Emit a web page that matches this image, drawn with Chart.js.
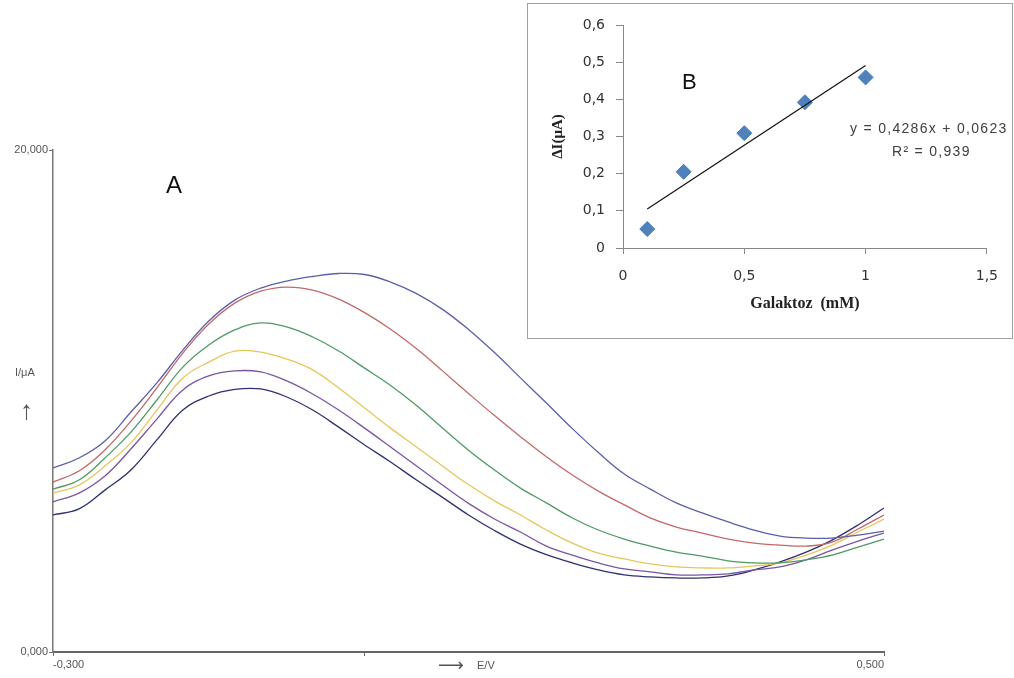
<!DOCTYPE html>
<html>
<head>
<meta charset="utf-8">
<script src="https://cdn.jsdelivr.net/npm/chart.js@4.4.1/dist/chart.umd.min.js"></script>
<style>
  html, body { margin: 0; padding: 0; background: #fff; }
  body { width: 1014px; height: 678px; position: relative; overflow: hidden; font-family: 'Liberation Sans', Arial, sans-serif; }
  #main { position: absolute; left: 0; top: 0; }
  #inset { position: absolute; left: 527px; top: 3px; width: 484px; height: 334px; border: 1px solid #a0a0a0; background: #fff; }
  #inset canvas { display: block; }
  .lbl { position: absolute; white-space: nowrap; }
</style>
</head>
<body>
<canvas id="main" width="1014" height="678"></canvas>
<div id="inset"><canvas id="insetChart" width="484" height="334"></canvas></div>

<div class="lbl" style="left:166px;top:173px;font-size:24px;line-height:24px;color:#111;">A</div>
<div class="lbl" style="left:15px;top:367px;font-size:11px;line-height:11px;color:#555;">I/μA</div>
<div class="lbl" style="left:20px;top:397px;font-size:26px;line-height:26px;color:#555;">↑</div>
<div class="lbl" style="left:438px;top:656px;font-size:18px;line-height:18px;color:#555;font-family:'DejaVu Sans',sans-serif;">⟶</div>
<div class="lbl" style="left:477px;top:660px;font-size:11px;line-height:11px;color:#555;">E/V</div>

<div class="lbl" style="left:682px;top:71px;font-size:22px;line-height:22px;color:#111;">B</div>
<div class="lbl" style="left:850px;top:121px;font-size:14px;line-height:14px;letter-spacing:1.3px;color:#404040;">y = 0,4286x + 0,0623</div>
<div class="lbl" style="left:892px;top:144px;font-size:14px;line-height:14px;letter-spacing:1.3px;color:#404040;">R² = 0,939</div>

<script>
// A: voltammograms, potential (V) vs current (uA)
const potentialE = [
  -0.300, -0.275, -0.250, -0.225, -0.200, -0.175, -0.150, -0.125, -0.100, -0.075, -0.050,
  -0.025, 0.000, 0.025, 0.050, 0.075, 0.100, 0.125, 0.150, 0.175, 0.200, 0.225,
  0.250, 0.275, 0.300, 0.325, 0.350, 0.375, 0.400, 0.425, 0.450, 0.475, 0.500
];
const currentBlue = [
  7.33, 7.73, 8.41, 9.56, 10.72, 12.03, 13.19, 14.02, 14.50, 14.78, 14.96,
  15.08, 15.04, 14.74, 14.28, 13.65, 12.85, 11.93, 10.92, 9.92, 8.90, 7.95,
  7.09, 6.49, 5.94, 5.54, 5.18, 4.86, 4.62, 4.54, 4.54, 4.66, 4.82
];
const currentRed = [
  6.77, 7.21, 8.05, 9.20, 10.52, 11.91, 13.07, 13.90, 14.38, 14.54, 14.42,
  14.06, 13.52, 12.86, 12.08, 11.20, 10.30, 9.42, 8.58, 7.78, 7.05, 6.41,
  5.86, 5.34, 4.98, 4.74, 4.50, 4.34, 4.26, 4.22, 4.38, 4.90, 5.46
];
const currentGreen = [
  6.49, 6.85, 7.73, 8.76, 10.04, 11.35, 12.23, 12.83, 13.11, 12.95, 12.55,
  11.99, 11.31, 10.62, 9.82, 8.92, 8.04, 7.25, 6.53, 5.94, 5.34, 4.86,
  4.50, 4.22, 3.98, 3.82, 3.63, 3.55, 3.55, 3.67, 3.86, 4.18, 4.50
];
const currentYellow = [
  6.33, 6.65, 7.41, 8.33, 9.64, 10.92, 11.55, 11.99, 11.95, 11.67, 11.24,
  10.52, 9.72, 8.92, 8.17, 7.41, 6.67, 6.02, 5.46, 4.86, 4.34, 3.94,
  3.71, 3.51, 3.39, 3.35, 3.35, 3.43, 3.55, 3.86, 4.26, 4.78, 5.30
];
const currentPurple = [
  5.98, 6.33, 7.01, 8.09, 9.28, 10.44, 11.00, 11.20, 11.16, 10.80, 10.28,
  9.64, 8.92, 8.17, 7.41, 6.65, 5.92, 5.30, 4.78, 4.22, 3.86, 3.55,
  3.31, 3.19, 3.07, 3.07, 3.11, 3.27, 3.39, 3.67, 4.06, 4.42, 4.74
];
const currentNavy = [
  5.46, 5.70, 6.45, 7.25, 8.45, 9.64, 10.20, 10.46, 10.48, 10.16, 9.64,
  8.96, 8.25, 7.57, 6.85, 6.16, 5.46, 4.84, 4.30, 3.88, 3.55, 3.27,
  3.07, 2.99, 2.95, 2.95, 3.03, 3.27, 3.59, 3.98, 4.46, 5.06, 5.74
];
const xTicksA = [-0.3, 0, 0.5];
const xTickLabelsA = ['-0,300', '', '0,500'];
const yTicksA = [0, 20];
const yTickLabelsA = ['0,000', '20,000'];

// B: calibration
const galaktozB = [0.1, 0.25, 0.5, 0.75, 1.0];
const deltaIB = [0.051, 0.205, 0.309, 0.392, 0.459];
const fitXB = [0.1, 1.0];
const fitYB = [0.105, 0.491];
const xTicksB = [0, 0.5, 1, 1.5];
const yTicksB = [0, 0.1, 0.2, 0.3, 0.4, 0.5, 0.6];

const curves = [
  { values: currentBlue, color: '#5a5fa8' },
  { values: currentRed, color: '#c2686a' },
  { values: currentGreen, color: '#4f9a62' },
  { values: currentYellow, color: '#e6c65a' },
  { values: currentPurple, color: '#7a55a0' },
  { values: currentNavy, color: '#2f3170' },
];

const axisFontA = { family: "'Liberation Sans', Arial, sans-serif", size: 11 };

new Chart(document.getElementById('main'), {
  type: 'line',
  data: {
    datasets: curves.map((c) => ({
      data: potentialE.map((e, i) => ({ x: e, y: c.values[i] })),
      borderColor: c.color,
      borderWidth: 1.3,
      pointRadius: 0,
      tension: 0.4,
      fill: false,
    })),
  },
  options: {
    responsive: false,
    animation: false,
    devicePixelRatio: 1,
    layout: { padding: { left: 0, right: 130, top: 150, bottom: 0 } },
    plugins: { legend: { display: false }, tooltip: { enabled: false } },
    scales: {
      x: {
        type: 'linear',
        min: -0.3,
        max: 0.5,
        afterBuildTicks: (s) => { s.ticks = xTicksA.map((v) => ({ value: v })); },
        afterFit: (s) => { s.height = 26; },
        ticks: {
          align: 'inner',
          autoSkip: false,
          maxRotation: 0,
          padding: 2,
          color: '#555',
          font: axisFontA,
          callback: (v, i) => xTickLabelsA[i],
        },
        grid: { drawOnChartArea: false, drawTicks: true, tickLength: 4, color: '#666' },
        border: { color: '#666', width: 2 },
      },
      y: {
        min: 0,
        max: 20,
        afterBuildTicks: (s) => { s.ticks = yTicksA.map((v) => ({ value: v })); },
        afterFit: (s) => { s.width = 53; },
        ticks: {
          padding: 1,
          color: '#555',
          font: axisFontA,
          callback: (v, i) => yTickLabelsA[i],
        },
        grid: { drawOnChartArea: false, drawTicks: true, tickLength: 4, color: '#777' },
        border: { color: '#777', width: 1.5 },
      },
    },
  },
});

const tickFontB = { family: "'DejaVu Sans', Verdana, sans-serif", size: 14 };
const titleFontB = { family: "'Liberation Serif', 'Times New Roman', serif", size: 16, weight: 'bold' };

new Chart(document.getElementById('insetChart'), {
  type: 'scatter',
  data: {
    datasets: [
      {
        type: 'line',
        data: fitXB.map((x, i) => ({ x, y: fitYB[i] })),
        borderColor: '#111',
        borderWidth: 1.2,
        pointRadius: 0,
        order: 0,
      },
      {
        data: galaktozB.map((x, i) => ({ x, y: deltaIB[i] })),
        pointStyle: 'rectRot',
        pointRadius: 7.5,
        backgroundColor: '#4f81bd',
        borderColor: '#4a7ab5',
        borderWidth: 1,
        order: 1,
      },
    ],
  },
  options: {
    responsive: false,
    animation: false,
    devicePixelRatio: 1,
    layout: { padding: { left: 0, right: 24, top: 21, bottom: 0 } },
    plugins: { legend: { display: false }, tooltip: { enabled: false } },
    scales: {
      x: {
        type: 'linear',
        min: 0,
        max: 1.5,
        afterBuildTicks: (s) => { s.ticks = xTicksB.map((v) => ({ value: v })); },
        afterFit: (s) => { s.height = 90; },
        ticks: {
          autoSkip: false,
          maxRotation: 0,
          padding: 14,
          color: '#333',
          font: tickFontB,
          callback: (v) => String(v).replace('.', ','),
        },
        grid: { drawOnChartArea: false, drawTicks: true, tickLength: 6, color: '#888' },
        border: { color: '#888', width: 1 },
        title: {
          display: true,
          text: 'Galaktoz  (mM)',
          color: '#222',
          font: titleFontB,
          padding: { top: 0, bottom: 25 },
        },
      },
      y: {
        min: 0,
        max: 0.6,
        afterBuildTicks: (s) => { s.ticks = yTicksB.map((v) => ({ value: v })); },
        afterFit: (s) => { s.width = 95; },
        ticks: {
          padding: 11,
          color: '#333',
          font: tickFontB,
          callback: (v) => (v === 0 ? '0' : v.toFixed(1).replace('.', ',')),
        },
        grid: { drawOnChartArea: false, drawTicks: true, tickLength: 7, color: '#888' },
        border: { color: '#888', width: 1 },
        title: {
          display: true,
          text: 'ΔI(μA)',
          color: '#222',
          font: { family: titleFontB.family, size: 15, weight: 'bold' },
          padding: { top: 21, bottom: 0 },
        },
      },
    },
  },
});
</script>
</body>
</html>
